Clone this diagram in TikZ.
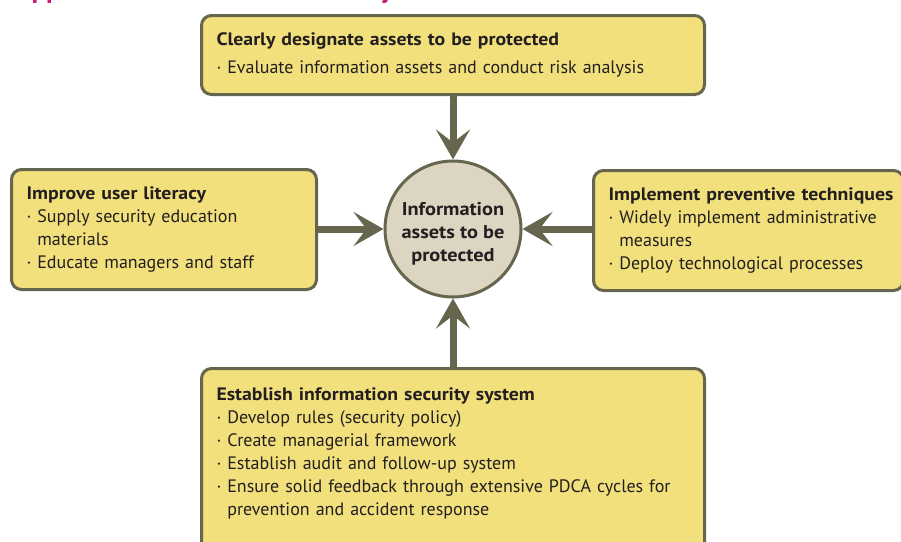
\documentclass[tikz,border=0pt]{standalone}
\usepackage{fontspec}
\setmainfont{PT Sans}[BoldFeatures={FakeStretch=1.1}]
\usetikzlibrary{arrows.meta}

\definecolor{boxfill}{HTML}{F1E07C}
\definecolor{edge}{HTML}{66664F}
\definecolor{corefill}{HTML}{DCD5C1}
\definecolor{ink}{HTML}{231F20}
\definecolor{headline}{HTML}{C2186F}

\newcommand{\dotitem}{\textperiodcentered\ }
\newcommand{\dotgap}{\hphantom{\textperiodcentered\ }}

\begin{document}
\begin{tikzpicture}[x=1pt, y=-1pt,
  box/.style={draw=edge, fill=boxfill, line width=3pt, rounded corners=10pt,
    anchor=north west, align=left, text=ink, inner xsep=15pt,
    font=\fontsize{18}{23}\selectfont},
  core/.style={circle, draw=edge, fill=corefill, line width=3pt,
    minimum size=136pt, inner sep=0pt, align=center, text=ink,
    font=\bfseries\fontsize{18.5}{23}\selectfont},
  link/.style={edge, line width=7pt, -{Stealth[length=30pt, width=34pt, inset=13pt]}}]
\useasboundingbox (0,0) rectangle (901,541);
\clip (0,0) rectangle (901,541);
\node[anchor=base west, inner sep=0pt, text=headline,
  font=\bfseries\fontsize{24.5}{28}\selectfont] (heading) at (15,-1.5) {Approach to information security};
\node[core] (asset) at (453,229) {\rule{0pt}{22pt}Information\\assets to be\\protected};
\node[box, text width=473pt, minimum height=79pt] (assess) at (200,14)
  {\textbf{Clearly designate assets to be protected}\\[5pt]
   \dotitem Evaluate information assets and conduct risk analysis};
\node[box, text width=275pt, minimum height=120pt] (literacy) at (10,168)
  {\textbf{Improve user literacy}\\
   \dotitem Supply security education\\
   \dotgap materials\\
   \dotitem Educate managers and staff};
\node[box, text width=280pt, minimum height=120pt] (prevent) at (592,169)
  {\mbox{\textbf{Implement preventive techniques}}\\
   \dotitem Widely implement administrative\\
   \dotgap measures\\
   \dotitem Deploy technological processes};
\node[box, text width=473pt, inner ysep=19pt] (system) at (200,367)
  {\textbf{Establish information security system}\\
   \dotitem Develop rules (security policy)\\
   \dotitem Create managerial framework\\
   \dotitem Establish audit and follow-up system\\
   \dotitem Ensure solid feedback through extensive PDCA cycles for\\
   \dotgap prevention and accident response\rule[-24pt]{0pt}{0pt}};
% arrows into the core
\draw[link] (asset |- assess.south) -- (asset.north);
\draw[link] (literacy.east |- asset) -- (asset.west);
\draw[link] (prevent.west |- asset) -- (asset.east);
\draw[link] (asset |- system.north) -- (asset.south);
\end{tikzpicture}
\end{document}
